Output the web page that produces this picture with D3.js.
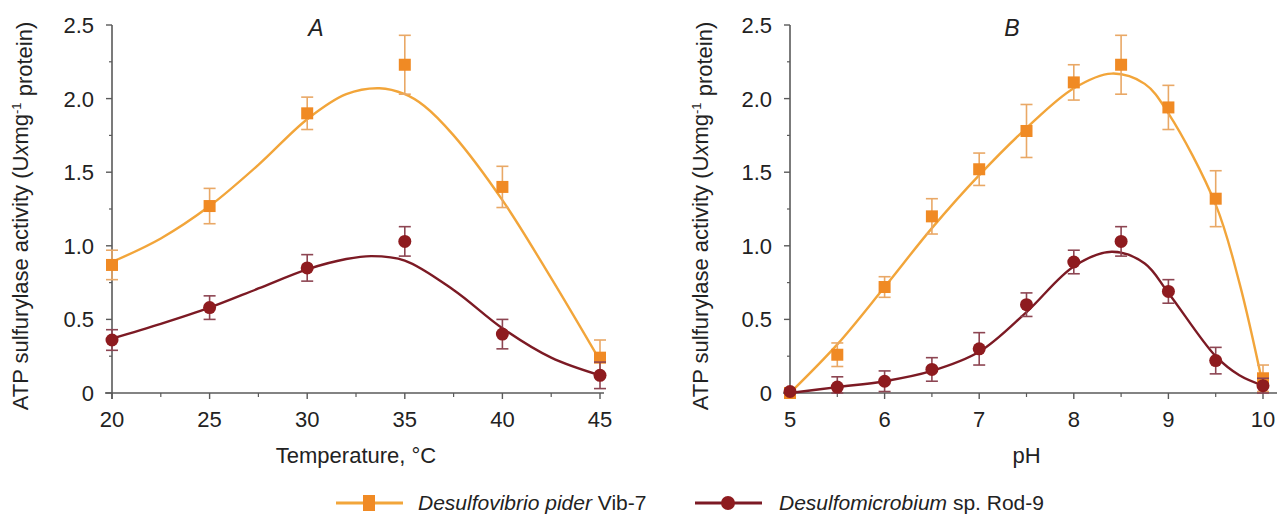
<!DOCTYPE html>
<html>
<head>
<meta charset="utf-8">
<script src="https://cdn.jsdelivr.net/npm/d3@7"></script>
<style>
body { margin: 0; background: #fff; }
svg { font-family: "Liberation Sans", Arial, sans-serif; }
</style>
</head>
<body>
<div id="chart"></div>
<script>
var tempX = [20, 25, 30, 35, 40, 45];
var vibTemp = [0.87, 1.27, 1.90, 2.23, 1.40, 0.24];
var vibTempErr = [0.10, 0.12, 0.11, 0.20, 0.14, 0.12];
var rodTemp = [0.36, 0.58, 0.85, 1.03, 0.40, 0.12];
var rodTempErr = [0.07, 0.08, 0.09, 0.10, 0.10, 0.09];

var fitTempX = [20, 22.5, 25, 27.5, 30, 32, 33.7, 35, 36, 37.5, 40, 42.5, 45];
var vibTempFit = [0.89, 1.05, 1.27, 1.55, 1.86, 2.03, 2.07, 2.03, 1.95, 1.75, 1.31, 0.78, 0.22];
var fitTempX2 = [20, 22.5, 25, 27.5, 30, 32, 33.3, 35, 37.5, 40, 42.5, 45];
var rodTempFit = [0.37, 0.47, 0.58, 0.71, 0.84, 0.91, 0.93, 0.90, 0.70, 0.44, 0.24, 0.12];

var phX = [5, 5.5, 6, 6.5, 7, 7.5, 8, 8.5, 9, 9.5, 10];
var vibPh = [0.0, 0.26, 0.72, 1.20, 1.52, 1.78, 2.11, 2.23, 1.94, 1.32, 0.10];
var vibPhErr = [0, 0.08, 0.07, 0.12, 0.11, 0.18, 0.12, 0.20, 0.15, 0.19, 0.09];
var rodPh = [0.01, 0.04, 0.08, 0.16, 0.30, 0.60, 0.89, 1.03, 0.69, 0.22, 0.05];
var rodPhErr = [0, 0.07, 0.07, 0.08, 0.11, 0.08, 0.08, 0.10, 0.08, 0.09, 0.05];

var fitPhX = [5, 5.5, 6, 6.5, 7, 7.5, 8, 8.4, 8.75, 9, 9.5, 9.75, 10];
var vibPhFit = [0.0, 0.33, 0.72, 1.12, 1.48, 1.80, 2.07, 2.17, 2.10, 1.90, 1.28, 0.75, 0.05];
var rodPhFit = [0.0, 0.04, 0.08, 0.15, 0.28, 0.55, 0.86, 0.96, 0.88, 0.68, 0.25, 0.12, 0.05];

var yTicks = [0, 0.5, 1.0, 1.5, 2.0, 2.5];
var tempTicks = [20, 25, 30, 35, 40, 45];
var phTicks = [5, 6, 7, 8, 9, 10];

var orangeLine = "#f2a53a", orangeMark = "#f08a24", orangeErr = "#e9a866";
var redLine = "#7c1a24", redMark = "#8e1b1f", redErr = "#8d4552";
var axisCol = "#5a5a5a";

var svg = d3.select("#chart").append("svg")
	.attr("width", 1277)
	.attr("height", 518);

var y = d3.scaleLinear().domain([0, 2.5]).range([393, 25]);

function zip(xs, ys){ return xs.map(function(d, i){ return [d, ys[i]]; }); }

function panel(x, ticks, minor, title, xlabel, labelX, titleX, extendRight, series){
	var g = svg.append("g");
	var x0 = x.range()[0];
	// y axis
	g.append("line").attr("x1", x0).attr("x2", x0).attr("y1", y(2.5)).attr("y2", y(0) + 6)
		.attr("stroke", axisCol).attr("stroke-width", 1.6);
	g.selectAll(".ymaj").data(yTicks).enter().append("line")
		.attr("x1", x0 - 6).attr("x2", x0)
		.attr("y1", function(d){ return y(d); }).attr("y2", function(d){ return y(d); })
		.attr("stroke", axisCol).attr("stroke-width", 1.4);
	g.selectAll(".ymin").data([0.25, 0.75, 1.25, 1.75, 2.25]).enter().append("line")
		.attr("x1", x0 - 3).attr("x2", x0)
		.attr("y1", function(d){ return y(d); }).attr("y2", function(d){ return y(d); })
		.attr("stroke", axisCol).attr("stroke-width", 1.2);
	g.selectAll(".ylab").data(yTicks).enter().append("text")
		.attr("x", x0 - 18).attr("y", function(d){ return y(d); })
		.attr("dy", "0.36em")
		.attr("text-anchor", "end")
		.style("font-size", "22px").style("fill", "#222")
		.text(function(d){ return d === 0 ? "0" : d3.format(".1f")(d); });
	// x axis
	g.append("line").attr("x1", x0 - 7).attr("x2", extendRight).attr("y1", y(0)).attr("y2", y(0))
		.attr("stroke", axisCol).attr("stroke-width", 1.6);
	g.selectAll(".xmaj").data(ticks).enter().append("line")
		.attr("x1", function(d){ return x(d); }).attr("x2", function(d){ return x(d); })
		.attr("y1", y(0)).attr("y2", y(0) + 6)
		.attr("stroke", axisCol).attr("stroke-width", 1.4);
	g.selectAll(".xmin").data(minor).enter().append("line")
		.attr("x1", function(d){ return x(d); }).attr("x2", function(d){ return x(d); })
		.attr("y1", y(0)).attr("y2", y(0) + 4)
		.attr("stroke", axisCol).attr("stroke-width", 1.2);
	g.selectAll(".xlab").data(ticks).enter().append("text")
		.attr("x", function(d){ return x(d); }).attr("y", 427)
		.attr("text-anchor", "middle")
		.style("font-size", "22px").style("fill", "#222")
		.text(function(d){ return d; });
	// axis titles
	g.append("text").attr("x", (x.range()[0] + x.range()[1]) / 2).attr("y", 463)
		.attr("text-anchor", "middle").style("font-size", "22px").style("fill", "#222")
		.text(xlabel);
	var yl = g.append("text")
		.attr("transform", "translate(" + labelX + ",216) rotate(-90)")
		.attr("text-anchor", "middle").attr("dy", "0.36em")
		.style("font-size", "22px").style("fill", "#222");
	yl.append("tspan").text("ATP sulfurylase activity (U");
	yl.append("tspan").style("font-style", "italic").text("x");
	yl.append("tspan").text("mg");
	yl.append("tspan").attr("dy", "-0.5em").style("font-size", "13px").text("-1");
	yl.append("tspan").attr("dy", "0.5em").text(" protein)");
	g.append("text").attr("x", titleX).attr("y", 36)
		.attr("text-anchor", "middle")
		.style("font-size", "23px").style("font-style", "italic").style("fill", "#222")
		.text(title);

	var line = d3.line()
		.x(function(d){ return x(d[0]); })
		.y(function(d){ return y(d[1]); })
		.curve(d3.curveCatmullRom.alpha(0.5));

	series.forEach(function(s){
		g.append("path").datum(zip(s.fx, s.fy))
			.attr("d", line).attr("fill", "none")
			.attr("stroke", s.line).attr("stroke-width", 2.4);
	});
	series.forEach(function(s){
		var pts = s.x.map(function(d, i){ return {x: d, v: s.v[i], e: s.e[i]}; }).filter(function(d){ return d.e > 0; });
		var eb = g.append("g");
		eb.selectAll(".ev").data(pts).enter().append("line")
			.attr("x1", function(d){ return x(d.x); }).attr("x2", function(d){ return x(d.x); })
			.attr("y1", function(d){ return y(d.v + d.e); }).attr("y2", function(d){ return y(Math.max(0, d.v - d.e)); })
			.attr("stroke", s.err).attr("stroke-width", 1.6);
		["top", "bot"].forEach(function(k){
			eb.selectAll(".c" + k).data(pts).enter().append("line")
				.attr("x1", function(d){ return x(d.x) - 6; }).attr("x2", function(d){ return x(d.x) + 6; })
				.attr("y1", function(d){ return y(k === "top" ? d.v + d.e : Math.max(0, d.v - d.e)); })
				.attr("y2", function(d){ return y(k === "top" ? d.v + d.e : Math.max(0, d.v - d.e)); })
				.attr("stroke", s.err).attr("stroke-width", 1.6);
		});
		var data = s.x.map(function(d, i){ return [d, s.v[i]]; });
		if (s.shape === "square") {
			g.selectAll(".sq").data(data).enter().append("rect")
				.attr("x", function(d){ return x(d[0]) - 6; })
				.attr("y", function(d){ return y(d[1]) - 6; })
				.attr("width", 12).attr("height", 12)
				.attr("fill", s.mark);
		} else {
			g.selectAll(".ci").data(data).enter().append("circle")
				.attr("cx", function(d){ return x(d[0]); })
				.attr("cy", function(d){ return y(d[1]); })
				.attr("r", 6.5)
				.attr("fill", s.mark);
		}
	});
}

var xA = d3.scaleLinear().domain([20, 45]).range([112, 600]);
panel(xA, tempTicks, [22.5, 27.5, 32.5, 37.5, 42.5], "A", "Temperature, \u00B0C", 20, 316, 604, [
	{x: tempX, v: vibTemp, e: vibTempErr, fx: fitTempX, fy: vibTempFit, line: orangeLine, mark: orangeMark, err: orangeErr, shape: "square"},
	{x: tempX, v: rodTemp, e: rodTempErr, fx: fitTempX2, fy: rodTempFit, line: redLine, mark: redMark, err: redErr, shape: "circle"}
]);

var xB = d3.scaleLinear().domain([5, 10]).range([790, 1263]);
panel(xB, phTicks, [5.5, 6.5, 7.5, 8.5, 9.5], "B", "pH", 700, 1012, 1277, [
	{x: phX, v: vibPh, e: vibPhErr, fx: fitPhX, fy: vibPhFit, line: orangeLine, mark: orangeMark, err: orangeErr, shape: "square"},
	{x: phX, v: rodPh, e: rodPhErr, fx: fitPhX, fy: rodPhFit, line: redLine, mark: redMark, err: redErr, shape: "circle"}
]);

// legend
var legend = [
	{x1: 336, x2: 403, cx: 369, tx: 418, it: "Desulfovibrio pider", rest: " Vib-7", line: orangeLine, mark: orangeMark, shape: "square"},
	{x1: 695, x2: 762, cx: 728, tx: 779, it: "Desulfomicrobium", rest: " sp. Rod-9", line: redLine, mark: redMark, shape: "circle"}
];
var ly = 503;
legend.forEach(function(l){
	svg.append("line").attr("x1", l.x1).attr("x2", l.x2).attr("y1", ly).attr("y2", ly)
		.attr("stroke", l.line).attr("stroke-width", 3);
	if (l.shape === "square") {
		svg.append("rect").attr("x", l.cx - 6).attr("y", ly - 8).attr("width", 12).attr("height", 16).attr("fill", l.mark);
	} else {
		svg.append("circle").attr("cx", l.cx).attr("cy", ly).attr("r", 7).attr("fill", l.mark);
	}
	var t = svg.append("text").attr("x", l.tx).attr("y", ly).attr("dy", "0.35em")
		.style("font-size", "21px").style("fill", "#222");
	t.append("tspan").style("font-style", "italic").text(l.it);
	t.append("tspan").text(l.rest);
});
</script>
</body>
</html>
